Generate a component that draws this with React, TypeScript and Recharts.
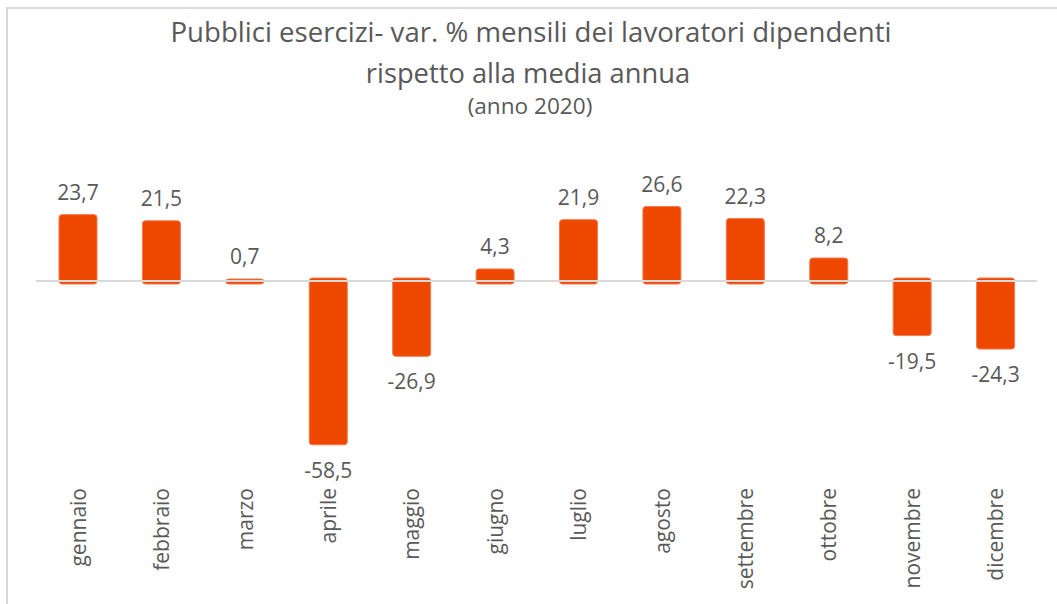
import React from 'react';
import { BarChart, Bar, XAxis, YAxis, ReferenceLine, LabelList } from 'recharts';

const months = ['gennaio', 'febbraio', 'marzo', 'aprile', 'maggio', 'giugno', 'luglio', 'agosto', 'settembre', 'ottobre', 'novembre', 'dicembre'];
const values = [23.7, 21.5, 0.7, -58.5, -26.9, 4.3, 21.9, 26.6, 22.3, 8.2, -19.5, -24.3];
const titleLines = ['Pubblici esercizi- var. % mensili dei lavoratori dipendenti', 'rispetto alla media annua', '(anno 2020)'];

const data = months.map((m, i) => ({ name: m, value: values[i] }));

const FONT = '"Open Sans", sans-serif';
const TEXT = '#595959';
const BAR = '#EE4700';

const fmt = (v: number) => v.toFixed(1).replace('.', ',');

const BarShape = (props: any) => {
  const { x, y, width, height, payload } = props;
  const v = payload ? payload.value : 0;
  const top = Math.min(y, y + height);
  const h = Math.abs(height);
  const pos = v >= 0;
  const ext = 3;
  const ry = pos ? top : top - ext;
  const zeroY = pos ? top + h : top;
  return (
    <g>
      <rect x={x} y={ry} width={width} height={h + ext} rx={3} ry={3} fill={BAR} stroke="#F3794A" strokeWidth={1} />
      <line x1={x} x2={x + width} y1={zeroY} y2={zeroY} stroke="#F7B294" strokeWidth={1.5} />
    </g>
  );
};

const ValueLabel = (props: any) => {
  const { x, y, width, height, value } = props;
  const top = Math.min(y, y + height);
  const bottom = Math.max(y, y + height);
  const v = Number(value);
  const ty = v >= 0 ? top - 15 : bottom + 33;
  return (
    <text x={x + width / 2} y={ty} textAnchor="middle" fontFamily={FONT} fontSize={21} fill={TEXT}>
      {fmt(v)}
    </text>
  );
};

const MonthTick = (props: any) => {
  const { x, y, payload } = props;
  return (
    <text x={x} y={y} transform={`rotate(-90 ${x} ${y})`} textAnchor="end" dy="0.38em" fontFamily={FONT} fontSize={21} fill={TEXT}>
      {payload.value}
    </text>
  );
};

export default function App() {
  return (
    <div style={{ position: 'absolute', left: 0, top: 0, width: 1057, height: 604, overflow: 'hidden', background: '#fff', fontFamily: FONT }}>
      <div style={{ position: 'absolute', left: 6, top: 7, width: 1200, height: 800, borderTop: '2px solid #d9d9d9', borderLeft: '2px solid #d9d9d9' }} />
      <svg width={1057} height={140} style={{ position: 'absolute', left: 0, top: 0 }}>
        <text x={531} y={42} textAnchor="middle" fontFamily={FONT} fontSize={27.6} fill={TEXT}>{titleLines[0]}</text>
        <text x={528} y={83} textAnchor="middle" fontFamily={FONT} fontSize={27.3} fill={TEXT}>{titleLines[1]}</text>
        <text x={530} y={114} textAnchor="middle" fontFamily={FONT} fontSize={22.6} fill={TEXT}>{titleLines[2]}</text>
      </svg>
      <div style={{ position: 'absolute', left: 0, top: 0 }}>
        <BarChart width={1057} height={604} data={data} margin={{ top: 169, right: 20, bottom: 17, left: 36 }}>
          <YAxis hide domain={[-70, 40]} />
          <XAxis dataKey="name" axisLine={false} tickLine={false} tickSize={0} tickMargin={11} interval={0} height={110} tick={<MonthTick />} />
          <ReferenceLine y={0} stroke="#d9d9d9" strokeWidth={2} />
          <Bar dataKey="value" barSize={38} isAnimationActive={false} shape={<BarShape />}>
            <LabelList dataKey="value" content={<ValueLabel />} />
          </Bar>
        </BarChart>
      </div>
    </div>
  );
}
